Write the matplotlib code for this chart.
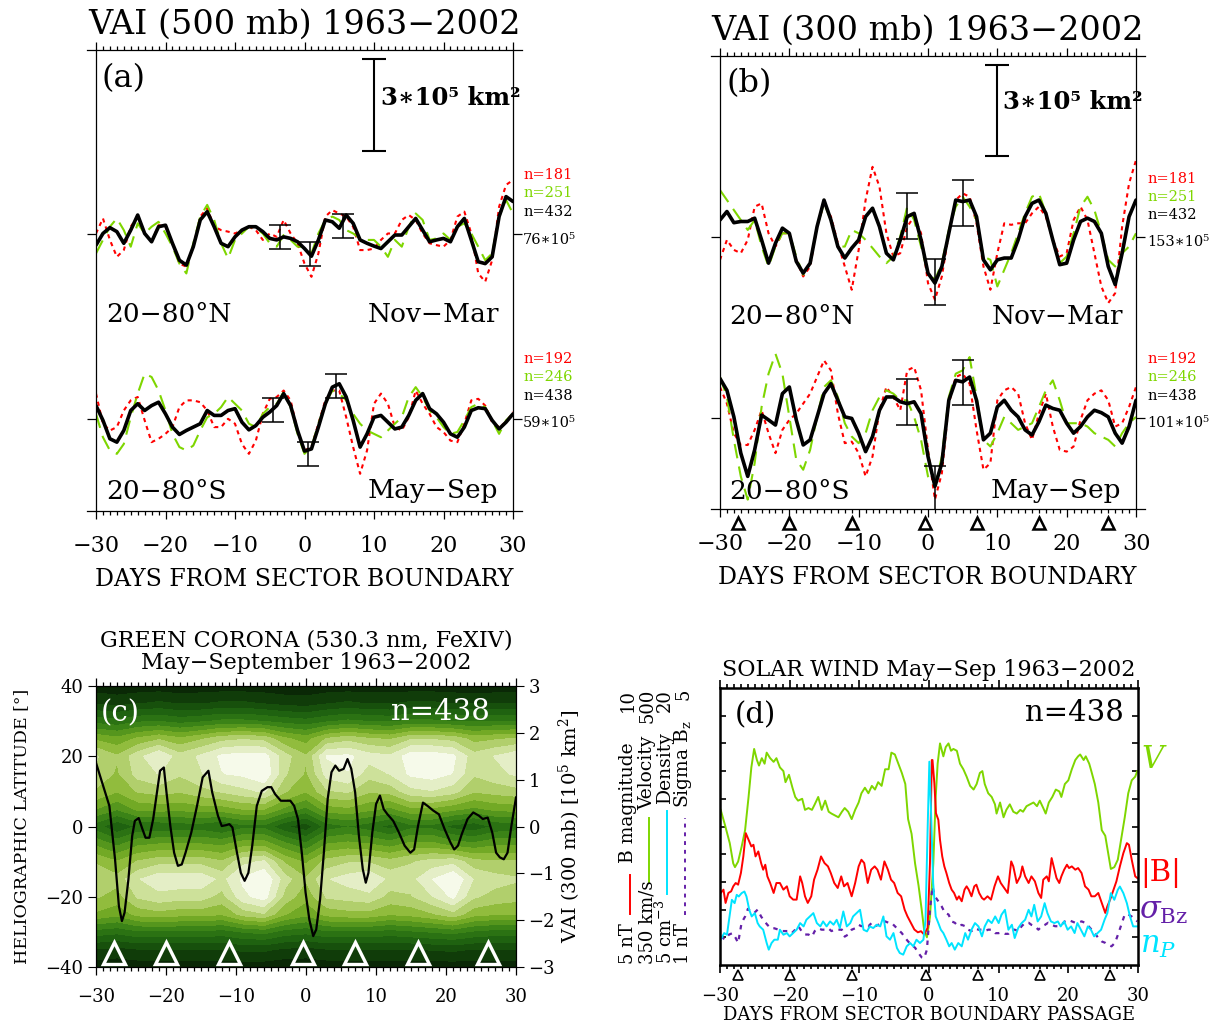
import numpy as np
from matplotlib import pyplot as plt
from matplotlib.lines import Line2D
from matplotlib.ticker import MultipleLocator

W, H = 1211, 1027
plt.rcParams['font.family'] = ['DejaVu Serif']
plt.rcParams['mathtext.fontset'] = 'dejavuserif'

RED = '#ff0000'
GREEN = '#7ed600'
CYAN = '#00e4ff'
PURPLE = '#6420a8'

# ------------------------------------------------------------------ data
days = np.arange(-30, 31)
tri_days = [-27.4, -20.0, -11.0, -0.5, 7.0, 16.0, 26.0]

# VAI anomalies (10^5 km^2), superposed epoch, one value per day
a_n_black = [-0.35, 0.03, 0.22, 0.09, -0.29, 0.14, 0.63, 0.03, -0.24, 0.25,
             0.30, -0.29, -0.84, -1.00, -0.40, 0.47, 0.74, 0.25, -0.29, -0.40,
             -0.08, 0.14, 0.25, 0.25, 0.09, -0.13, -0.18, -0.08, -0.13, -0.24,
             -0.46, -0.71, -0.18, 0.47, 0.41, 0.20, 0.63, 0.36, -0.18, -0.29,
             -0.38, -0.46, -0.24, -0.02, -0.02, 0.25, 0.52, 0.14, -0.24, -0.18,
             -0.13, -0.24, 0.25, 0.52, -0.18, -0.89, -0.95, -0.73, 0.58, 1.23, 1.07]
a_n_red = [0.03, 0.52, -0.18, -0.73, -0.51, 0.25, 0.58, 0.03, -0.24, 0.30,
           0.25, -0.29, -0.95, -1.05, -0.40, 0.58, 0.85, 0.25, 0.14, 0.09,
           0.03, 0.14, 0.25, 0.14, -0.18, 0.03, -0.08, 0.47, 0.03, -0.29,
           -0.95, -1.38, -0.62, 0.58, 0.79, 0.68, 0.58, 0.25, -0.51, -0.51,
           -0.46, -0.18, 0.03, 0.03, 0.47, 0.63, 0.47, 0.03, -0.29, -0.35,
           -0.40, -0.18, 0.58, 0.74, 0.03, -1.27, -1.54, -0.84, 0.90, 1.61, 1.77]
a_n_green = [-0.62, -0.18, 0.25, 0.52, 0.14, -0.40, 0.36, 0.03, 0.25, 0.41,
             0.03, -0.40, -0.95, -1.27, -0.29, 0.58, 0.96, 0.47, -0.29, -0.78,
             -0.18, 0.03, 0.25, 0.20, 0.03, -0.29, -0.40, -0.02, -0.18, -0.40,
             -0.40, -0.62, 0.03, 0.47, 0.58, 0.47, 0.14, 0.03, -0.13, -0.18,
             -0.18, -0.40, -0.73, -0.18, -0.40, 0.25, 0.68, 0.47, -0.18, -0.13,
             0.03, -0.18, 0.25, 0.36, 0.03, -0.40, -0.84, -0.62, 0.58, 1.12, 0.68]
a_s_black = [0.43, -0.05, -0.65, -0.76, -0.38, 0.27, 0.49, 0.27, 0.43, 0.54,
             0.16, -0.27, -0.51, -0.38, -0.27, -0.16, 0.27, 0.11, 0.11, 0.27,
             0.33, -0.11, -0.36, -0.22, 0.05, 0.22, 0.43, 0.82, 0.43, -0.38,
             -1.05, -0.98, -0.27, 0.49, 1.03, 1.14, 0.71, -0.05, -0.92, -0.49,
             0.05, 0.11, -0.11, -0.33, -0.27, 0.11, 0.60, 0.82, 0.33, 0.16,
             -0.11, -0.49, -0.60, -0.27, 0.27, 0.36, 0.33, -0.05, -0.33, -0.11, 0.16]
a_s_red = [0.82, -0.16, -0.38, -0.27, 0.27, 0.60, 0.71, -0.05, -0.76, -0.65,
           -0.49, -0.27, 0.38, 0.60, 0.60, 0.54, 0.27, -0.27, -0.27, 0.00,
           -0.16, -0.82, -1.14, -0.71, 0.16, 0.65, 0.71, 0.92, 0.60, -0.38,
           -1.03, -0.92, -0.16, 0.60, 0.92, 0.92, 0.05, -0.92, -1.79, -1.03,
           0.49, 0.82, 0.49, -0.27, -0.38, 0.05, 0.92, 0.49, 0.16, -0.27,
           -0.43, -0.71, -0.76, -0.16, 0.60, 0.65, 0.43, -0.11, -0.27, -0.11, 0.22]
a_s_green = [0.16, -0.60, -1.03, -1.14, -0.82, 0.05, 0.82, 1.47, 1.36, 0.92,
             0.27, -0.49, -0.92, -1.03, -0.87, -0.38, 0.05, 0.16, 0.38, 0.71,
             0.49, 0.27, -0.16, -0.27, 0.16, 0.38, 0.49, 0.87, 0.38, -0.49,
             -1.14, -0.92, -0.16, 0.49, 0.92, 0.82, 0.60, 0.16, -0.16, -0.38,
             -0.49, -0.60, -0.38, -0.16, 0.05, 0.71, 1.03, 0.71, 0.27, 0.05,
             -0.27, -0.49, -0.43, -0.05, 0.38, 0.49, 0.38, -0.05, -0.49, -0.05, 0.16]

b_n_black = [0.57, 0.85, 0.48, 0.52, 0.52, 0.63, -0.09, -0.86, -0.20, 0.30,
             0.13, -0.80, -1.19, -0.86, 0.35, 1.23, 0.57, -0.31, -0.69, -0.36,
             -0.09, 0.68, 0.96, 0.35, -0.53, -0.75, -0.09, 0.68, 0.79, -0.09,
             -1.19, -1.52, -0.97, 0.13, 1.23, 1.18, 1.23, 0.68, -0.75, -1.08,
             -0.75, -0.69, -0.69, -0.09, 0.68, 1.12, 1.23, 0.79, -0.09, -0.91,
             -0.86, -0.09, 0.52, 0.63, 0.52, 0.13, -0.97, -1.57, -0.53, 0.68, 1.23]
b_n_red = [-0.75, -0.09, -0.42, -0.53, -0.09, 1.01, 1.12, 0.13, -0.31, 0.13,
           0.13, -0.75, -1.30, -0.97, 0.35, 1.12, 0.68, -0.20, -0.97, -1.74,
           -0.42, 1.23, 2.33, 1.67, 0.13, -0.64, -0.53, 0.35, 0.68, 0.13,
           -1.52, -2.07, -1.30, 0.13, 1.23, 1.45, 1.34, 0.46, -0.97, -1.74,
           -0.53, 0.46, 0.41, 0.46, 0.46, 0.79, 1.01, 0.68, -0.09, -0.64,
           -0.53, 0.57, 1.01, 0.57, -0.53, -1.63, -2.18, -1.85, 0.35, 1.78, 2.55]
b_n_green = [1.56, 1.23, 0.90, 0.57, 0.24, 0.57, -0.31, -0.97, -0.31, 0.13,
             0.13, -0.64, -1.24, -0.86, 0.35, 1.12, 0.57, -0.31, -0.31, 0.24,
             0.13, -0.09, -0.36, -0.64, -0.86, -0.64, 0.02, 1.01, 0.57, -0.31,
             -1.19, -1.41, -0.86, 0.24, 1.01, 1.34, 1.01, 0.57, -0.64, -0.75,
             -1.63, -1.08, -0.53, 0.13, 0.79, 1.34, 1.45, 0.79, -0.09, -0.86,
             -0.64, 0.13, 1.01, 1.34, 0.90, 0.13, -0.75, -0.97, -0.53, -0.31, 0.13]
b_s_black = [1.32, 0.93, 0.05, -1.15, -1.92, -1.04, 0.11, -0.05, -0.22, 0.82,
             1.04, -0.05, -0.88, -0.71, 0.05, 0.82, 1.15, 0.60, 0.05, 0.00,
             -0.49, -1.10, -0.60, 0.27, 0.71, 0.71, 0.55, 0.49, 0.55, 0.16,
             -1.26, -2.25, -1.48, 0.60, 1.26, 1.21, 1.37, 0.60, -0.71, -0.49,
             0.38, 0.60, 0.27, 0.05, -0.38, -0.55, -0.11, 0.44, 0.33, 0.27,
             -0.16, -0.49, -0.27, 0.05, 0.27, 0.19, 0.05, -0.49, -0.82, -0.27, 0.60]
b_s_red = [1.04, 0.49, -0.49, -0.88, -0.88, -0.38, 0.27, -0.49, -1.15, -0.38,
           -0.05, 0.16, 0.49, 0.82, 1.37, 1.92, 1.59, 0.16, -0.82, -0.77,
           -1.15, -1.92, -1.26, 0.27, 1.04, 0.71, 0.27, 1.59, 1.70, 0.93,
           -1.04, -2.69, -1.81, 0.49, 1.37, 1.48, 1.15, -0.38, -1.70, -1.48,
           0.60, 0.93, 1.04, 0.82, -0.16, -0.71, 0.16, 0.82, -0.27, -1.04,
           -1.10, -0.93, -0.05, 0.60, 0.82, 0.93, 0.60, -0.27, -0.16, 0.38, 1.04]
b_s_green = [1.37, 0.71, -0.71, -1.92, -2.69, -1.48, 0.38, 1.48, 2.14, 1.48,
             0.05, -1.37, -1.70, -1.04, 0.05, 1.04, 1.26, 0.71, -0.16, -0.60,
             -0.82, -0.49, 0.27, 0.71, 0.93, 0.82, 0.60, 0.60, 0.05, -0.71,
             -1.92, -2.25, -1.26, 0.71, 1.48, 1.59, 2.03, 0.71, -0.71, -0.93,
             -0.49, 0.05, -0.16, -0.38, -0.27, -0.16, 0.38, 0.93, 1.26, 0.60,
             -0.16, -0.16, -0.16, -0.27, -0.49, -0.60, -0.71, -0.93, -0.49, -0.16, 0.05]

# error bars: day, value, half-length (10^5 km^2)
a_n_err = ([-3.5, 0.8, 5.6], [-0.10, -0.65, 0.28], 0.39)
a_s_err = ([-4.5, 0.55, 4.5], [0.28, -1.14, 1.08], 0.39)
b_n_err = ([-3.0, 1.0, 5.0], [0.71, -1.47, 1.14], 0.76)
b_s_err = ([-3.0, 1.0, 5.0], [0.54, -2.31, 1.18], 0.75)

# green corona intensity (normalised), latitude rows x day columns
corona_days = np.arange(-30, 31, 3)
corona_lats = [40, 35, 30, 25, 20, 15, 10, 5, 0, -5, -10, -15, -20, -25, -30, -35, -40]
corona_z = [
    [0.03, 0.02, 0.03, 0.03, 0.02, 0.03, 0.03, 0.03, 0.03, 0.02, 0.02, 0.03, 0.03, 0.03, 0.03, 0.03, 0.03, 0.03, 0.02, 0.03, 0.03],
    [0.15, 0.13, 0.15, 0.17, 0.15, 0.15, 0.17, 0.17, 0.15, 0.13, 0.12, 0.15, 0.17, 0.15, 0.15, 0.17, 0.17, 0.15, 0.15, 0.15, 0.15],
    [0.35, 0.33, 0.37, 0.38, 0.35, 0.37, 0.40, 0.40, 0.38, 0.35, 0.33, 0.37, 0.40, 0.38, 0.37, 0.40, 0.40, 0.38, 0.37, 0.38, 0.38],
    [0.60, 0.56, 0.63, 0.68, 0.63, 0.68, 0.74, 0.76, 0.74, 0.63, 0.58, 0.70, 0.74, 0.70, 0.68, 0.76, 0.76, 0.74, 0.66, 0.68, 0.70],
    [0.78, 0.70, 0.82, 0.92, 0.80, 0.86, 0.94, 0.96, 0.96, 0.80, 0.70, 0.93, 0.94, 0.88, 0.86, 0.97, 0.97, 0.94, 0.80, 0.85, 0.90],
    [0.75, 0.68, 0.80, 0.85, 0.78, 0.84, 0.92, 0.94, 0.99, 0.78, 0.68, 0.88, 0.92, 0.80, 0.85, 0.94, 0.96, 0.92, 0.78, 0.82, 0.86],
    [0.68, 0.62, 0.70, 0.72, 0.70, 0.74, 0.78, 0.82, 0.86, 0.70, 0.62, 0.76, 0.78, 0.70, 0.72, 0.82, 0.84, 0.80, 0.70, 0.72, 0.74],
    [0.54, 0.47, 0.56, 0.57, 0.56, 0.58, 0.58, 0.62, 0.62, 0.52, 0.44, 0.58, 0.60, 0.56, 0.52, 0.60, 0.60, 0.56, 0.52, 0.56, 0.57],
    [0.34, 0.24, 0.32, 0.32, 0.34, 0.34, 0.30, 0.36, 0.36, 0.24, 0.18, 0.34, 0.38, 0.34, 0.28, 0.36, 0.36, 0.28, 0.25, 0.32, 0.34],
    [0.52, 0.44, 0.52, 0.54, 0.54, 0.54, 0.52, 0.58, 0.58, 0.48, 0.40, 0.54, 0.56, 0.54, 0.50, 0.56, 0.56, 0.50, 0.48, 0.52, 0.52],
    [0.68, 0.62, 0.70, 0.74, 0.74, 0.74, 0.70, 0.82, 0.86, 0.68, 0.60, 0.72, 0.76, 0.76, 0.72, 0.76, 0.80, 0.82, 0.72, 0.70, 0.70],
    [0.76, 0.72, 0.84, 0.90, 0.90, 0.90, 0.82, 0.94, 1.00, 0.80, 0.70, 0.84, 0.88, 0.92, 0.82, 0.82, 0.92, 1.00, 0.84, 0.80, 0.78],
    [0.70, 0.66, 0.78, 0.82, 0.80, 0.80, 0.74, 0.90, 0.96, 0.74, 0.64, 0.78, 0.80, 0.82, 0.74, 0.76, 0.84, 0.94, 0.78, 0.74, 0.72],
    [0.60, 0.56, 0.64, 0.66, 0.64, 0.64, 0.62, 0.72, 0.76, 0.62, 0.56, 0.64, 0.66, 0.66, 0.62, 0.64, 0.68, 0.74, 0.64, 0.62, 0.62],
    [0.35, 0.33, 0.37, 0.37, 0.37, 0.37, 0.35, 0.39, 0.41, 0.35, 0.33, 0.37, 0.37, 0.37, 0.35, 0.37, 0.39, 0.41, 0.37, 0.35, 0.35],
    [0.15, 0.13, 0.15, 0.15, 0.15, 0.15, 0.15, 0.17, 0.17, 0.14, 0.13, 0.15, 0.15, 0.15, 0.15, 0.15, 0.16, 0.17, 0.15, 0.15, 0.15],
    [0.03, 0.02, 0.03, 0.03, 0.03, 0.03, 0.03, 0.03, 0.03, 0.02, 0.02, 0.03, 0.03, 0.03, 0.03, 0.03, 0.03, 0.03, 0.03, 0.03, 0.03],
]
corona_colors = ['#0a2806', '#103c09', '#17500c', '#1f6210', '#2b7213', '#3b8317', '#55961d',
                 '#72a925', '#91bc3d', '#b1cf6c', '#cde19a', '#e4eec6', '#f6faea']

# VAI 300 mb May-Sep, less smoothed, drawn over the corona map
c_days = [-30.00, -28.09, -27.28, -26.73, -26.30, -25.92, -25.37, -24.83, -24.45, -23.90,
          -23.36, -22.92, -22.38, -21.83, -21.29, -20.85, -20.31, -19.93, -19.38, -18.84,
          -18.30, -17.75, -17.21, -16.39, -15.57, -14.76, -13.94, -13.40, -12.58, -12.04,
          -11.38, -10.95, -10.51, -9.86, -9.31, -8.77, -8.23, -7.68, -7.03, -6.32,
          -5.50, -4.96, -4.41, -3.60, -2.24, -1.69, -1.15, -0.60, -0.06, 0.48,
          1.03, 1.46, 2.01, 2.55, 3.10, 3.64, 4.19, 4.73, 5.38, 5.93,
          6.47, 7.02, 7.56, 8.11, 8.54, 8.92, 9.47, 10.01, 10.56, 11.10,
          11.64, 12.46, 13.28, 14.09, 14.91, 15.45, 16.00, 16.71, 17.36, 18.18,
          18.99, 19.81, 20.63, 21.17, 21.71, 22.26, 23.08, 23.89, 24.71, 25.25,
          25.96, 26.61, 27.16, 27.70, 28.25, 28.79, 29.34, 30.00]
c_vai = [1.36, 0.44, -0.70, -1.70, -2.02, -1.84, -1.13, -0.20, 0.12, 0.18,
         -0.06, -0.24, -0.24, 0.16, 0.73, 1.19, 1.26, 0.73, 0.01, -0.56,
         -0.84, -0.81, -0.56, -0.13, 0.44, 1.05, 1.19, 0.73, 0.23, 0.01,
         0.03, 0.05, -0.02, -0.56, -0.99, -1.16, -0.99, -0.41, 0.44, 0.76,
         0.84, 0.84, 0.69, 0.55, 0.55, 0.44, 0.16, -0.56, -1.41, -1.99,
         -2.34, -2.20, -1.56, -0.56, 0.59, 1.16, 1.30, 1.19, 1.23, 1.44,
         1.23, 0.73, -0.20, -0.91, -1.20, -0.99, -0.13, 0.48, 0.66, 0.37,
         0.26, 0.12, -0.13, -0.41, -0.56, -0.49, 0.01, 0.51, 0.44, 0.34,
         0.26, -0.06, -0.34, -0.49, -0.41, -0.16, 0.16, 0.30, 0.23, 0.16,
         0.19, -0.13, -0.56, -0.66, -0.70, -0.56, 0.01, 0.62]

# solar wind: velocity (km/s)
v_days = [-29.9, -29.3, -28.6, -28.1, -27.85, -27.4, -26.9, -26.4, -25.9, -25.5,
          -25.1, -24.7, -24.4, -24.0, -23.6, -23.3, -22.8, -22.3, -21.9, -21.4,
          -20.9, -20.6, -20.1, -19.6, -19.2, -18.8, -18.2, -17.8, -17.3, -16.8,
          -16.4, -15.9, -15.4, -14.9, -14.4, -14.0, -13.5, -13.0, -12.5, -12.1,
          -11.6, -11.1, -10.6, -10.1, -9.7, -9.2, -8.7, -8.2, -7.75, -7.3,
          -6.8, -6.3, -5.8, -5.4, -4.9, -4.4, -3.9, -3.4, -3.0, -2.5,
          -2.0, -1.5, -1.05, -0.7, -0.3, 0.14, 0.62, 0.96, 1.24, 1.58,
          2.06, 2.4, 2.8, 3.16, 3.5, 4.0, 4.45, 4.93, 5.4, 5.9,
          6.4, 6.84, 7.3, 7.66, 8.0, 8.5, 9.0, 9.47, 9.7, 10.2,
          10.7, 11.1, 11.6, 12.1, 12.6, 13.1, 13.5, 14.0, 14.5, 15.0,
          15.5, 15.9, 16.4, 16.75, 17.2, 17.7, 18.2, 18.7, 19.0, 19.5,
          20.0, 20.5, 21.0, 21.4, 21.7, 22.2, 22.5, 23.0, 23.3, 23.8,
          24.3, 24.8, 25.3, 25.7, 26.1, 26.6, 27.1, 27.7, 28.1, 28.6,
          29.1, 29.6, 29.9]
v_kms = [434, 426, 416, 405, 403, 406, 414, 423, 441, 457,
         467, 461, 458, 462, 459, 465, 462, 460, 462, 457,
         455, 449, 453, 446, 441, 439, 440, 434, 435, 434,
         437, 441, 434, 439, 433, 432, 431, 430, 433, 435,
         433, 429, 434, 438, 443, 446, 443, 447, 445, 449,
         447, 456, 456, 465, 464, 459, 454, 448, 429, 421,
         405, 393, 380, 369, 365, 376, 405, 441, 459, 470,
         463, 468, 470, 466, 467, 466, 459, 456, 452, 447,
         445, 448, 454, 455, 448, 443, 441, 437, 432, 438,
         430, 434, 437, 433, 432, 434, 433, 436, 437, 438,
         436, 439, 435, 432, 438, 441, 445, 444, 441, 448,
         450, 456, 461, 463, 464, 461, 463, 459, 455, 448,
         438, 423, 420, 411, 402, 403, 407, 421, 430, 443,
         450, 452, 455]

# field magnitude |B| (nT)
b_days = [-29.9, -29.5, -29.2, -28.8, -28.4, -28.1, -27.75, -27.4, -27.0, -26.65,
          -26.3, -25.9, -25.5, -25.2, -24.9, -24.5, -24.1, -23.8, -23.5, -23.2,
          -22.8, -22.3, -21.9, -21.4, -20.9, -20.4, -20.0, -19.5, -19.0, -18.5,
          -18.2, -17.8, -17.4, -16.9, -16.5, -16.0, -15.5, -15.0, -14.5, -14.1,
          -13.6, -13.1, -12.6, -12.2, -11.7, -11.1, -10.6, -10.1, -9.7, -9.3,
          -8.8, -8.3, -7.8, -7.4, -6.9, -6.4, -5.9, -5.45, -5.0, -4.5,
          -4.0, -3.5, -3.1, -2.6, -2.1, -1.6, -1.15, -0.7, -0.2, 0.14,
          0.4, 0.5, 0.77, 1.0, 1.34, 1.58, 1.9, 2.2, 2.5, 2.9,
          3.25, 3.6, 4.0, 4.3, 4.7, 5.1, 5.4, 5.7, 6.1, 6.5,
          6.8, 7.2, 7.6, 7.9, 8.4, 8.9, 9.4, 9.9, 10.3, 10.8,
          11.3, 11.8, 12.1, 12.6, 13.1, 13.4, 13.8, 14.3, 14.7, 15.2,
          15.7, 16.1, 16.4, 16.9, 17.2, 17.6, 18.0, 18.3, 18.7, 19.0,
          19.4, 19.8, 20.1, 20.5, 21.0, 21.4, 21.9, 22.4, 22.9, 23.3,
          23.8, 24.3, 24.8, 25.3, 25.6, 26.0, 26.5, 26.9, 27.4, 27.9,
          28.4, 28.7, 29.1, 29.6, 29.9]
b_nt = [6.30, 6.36, 6.12, 6.30, 6.33, 6.42, 6.48, 6.45, 6.66, 6.96,
        7.38, 7.26, 7.14, 7.17, 6.96, 7.05, 6.84, 6.72, 6.81, 6.60,
        6.48, 6.30, 6.48, 6.48, 6.36, 6.42, 6.24, 6.18, 6.18, 6.60,
        6.48, 6.24, 6.12, 6.24, 6.54, 6.72, 6.96, 6.84, 6.78, 6.66,
        6.48, 6.39, 6.60, 6.42, 6.48, 6.24, 6.48, 6.78, 6.90, 6.84,
        6.48, 6.72, 6.78, 6.72, 6.54, 6.87, 6.72, 6.54, 6.48, 6.30,
        6.24, 6.00, 5.88, 5.76, 5.64, 5.59, 5.61, 5.55, 5.67, 6.84,
        8.70, 8.70, 8.28, 7.74, 7.62, 7.26, 6.96, 6.78, 6.66, 6.48,
        6.36, 6.30, 6.18, 6.24, 6.15, 6.36, 6.42, 6.36, 6.24, 6.42,
        6.45, 6.30, 6.21, 6.18, 6.24, 6.18, 6.42, 6.60, 6.48, 6.39,
        6.30, 6.87, 6.78, 6.48, 6.60, 6.78, 6.60, 6.48, 6.60, 6.51,
        6.30, 6.21, 6.54, 6.60, 6.51, 6.93, 6.72, 6.57, 6.48, 6.60,
        6.72, 6.81, 6.75, 6.78, 6.72, 6.75, 6.66, 6.42, 6.36, 6.24,
        6.24, 6.30, 6.12, 5.94, 6.06, 6.18, 6.36, 6.51, 6.78, 7.02,
        7.20, 7.17, 6.90, 6.60, 6.57]

# proton density (cm^-3)
n_days = [-29.9, -29.4, -29.0, -28.7, -28.3, -27.9, -27.6, -27.3, -26.9, -26.5,
          -26.2, -25.8, -25.45, -25.0, -24.6, -24.3, -23.8, -23.3, -23.0, -22.6,
          -22.2, -21.7, -21.4, -20.9, -20.4, -20.0, -19.5, -19.0, -18.5, -18.0,
          -17.6, -17.1, -16.6, -16.1, -15.6, -15.2, -14.7, -14.2, -13.7, -13.25,
          -12.8, -12.3, -11.8, -11.3, -10.9, -10.4, -9.9, -9.4, -8.9, -8.5,
          -8.0, -7.5, -7.0, -6.55, -6.1, -5.6, -5.1, -4.6, -4.2, -3.7,
          -3.2, -2.7, -2.25, -1.8, -1.3, -0.8, -0.5, -0.2, 0.05, 0.3,
          0.6, 0.96, 1.34, 1.7, 2.06, 2.5, 2.9, 3.25, 3.7, 4.2,
          4.7, 5.2, 5.6, 6.1, 6.6, 7.1, 7.6, 8.0, 8.5, 9.0,
          9.5, 10.0, 10.4, 10.9, 11.4, 11.9, 12.3, 12.8, 13.3, 13.8,
          14.3, 14.7, 15.1, 15.6, 16.1, 16.6, 17.0, 17.5, 18.0, 18.5,
          18.9, 19.4, 19.9, 20.4, 20.9, 21.3, 21.8, 22.3, 22.8, 23.25,
          23.7, 24.2, 24.7, 25.2, 25.6, 26.1, 26.6, 27.1, 27.4, 27.9,
          28.4, 28.85, 29.3, 29.9]
n_cm3 = [6.37, 6.73, 6.64, 7.45, 8.53, 8.35, 8.80, 8.71, 8.89, 8.98,
         8.71, 7.99, 7.63, 7.81, 7.27, 7.09, 6.91, 6.19, 5.83, 6.19,
         6.37, 6.37, 6.91, 6.64, 6.73, 6.55, 6.73, 6.91, 7.27, 7.09,
         7.45, 7.63, 7.81, 7.27, 7.09, 7.36, 7.09, 7.36, 7.18, 7.45,
         7.00, 7.90, 7.09, 7.27, 7.63, 7.81, 7.99, 6.91, 6.82, 7.09,
         7.00, 7.18, 7.09, 7.63, 6.55, 6.37, 6.73, 5.92, 5.65, 5.56,
         6.01, 6.19, 6.01, 6.37, 6.19, 6.37, 7.45, 12.32, 16.01, 13.22,
         9.43, 7.63, 7.27, 6.91, 6.73, 6.37, 6.01, 6.19, 5.83, 6.19,
         6.01, 6.73, 6.37, 6.91, 7.27, 7.09, 6.55, 7.09, 7.45, 7.27,
         7.63, 7.27, 7.72, 7.99, 6.91, 7.18, 6.46, 7.00, 7.27, 7.45,
         7.99, 7.63, 8.26, 7.36, 7.63, 8.35, 7.81, 7.36, 7.27, 7.36,
         7.09, 7.36, 6.91, 7.09, 6.73, 7.27, 6.91, 6.55, 7.09, 6.91,
         6.55, 6.73, 6.91, 7.45, 7.81, 8.89, 8.53, 9.07, 9.25, 8.89,
         8.35, 7.63, 7.09, 7.09]

# sigma Bz (nT)
s_days = [-29.9, -29.3, -28.7, -28.2, -27.75, -27.4, -26.9, -26.4, -26.0, -25.5,
          -25.1, -24.6, -24.1, -23.6, -23.2, -22.7, -22.2, -21.6, -21.1, -20.7,
          -20.2, -19.7, -19.2, -18.75, -18.3, -17.8, -17.3, -16.8, -16.4, -15.9,
          -15.4, -14.9, -14.45, -14.0, -13.5, -13.0, -12.5, -12.1, -11.6, -11.1,
          -10.6, -10.1, -9.7, -9.2, -8.7, -8.2, -7.75, -7.3, -6.8, -6.3,
          -5.8, -5.4, -4.9, -4.4, -3.9, -3.4, -3.0, -2.5, -2.0, -1.5,
          -1.05, -0.7, -0.3, 0.14, 0.5, 0.86, 1.34, 1.8, 2.3, 2.8,
          3.25, 3.7, 4.2, 4.7, 5.2, 5.6, 6.1, 6.6, 7.1, 7.6,
          8.0, 8.5, 9.0, 9.5, 10.0, 10.4, 10.9, 11.4, 11.9, 12.3,
          12.8, 13.3, 13.8, 14.3, 14.7, 15.2, 15.7, 16.2, 16.65, 17.1,
          17.6, 18.1, 18.6, 19.0, 19.5, 20.0, 20.5, 21.0, 21.4, 21.9,
          22.4, 22.9, 23.35, 23.8, 24.3, 24.8, 25.3, 25.7, 26.2, 26.7,
          27.2, 27.7, 28.1, 28.6, 29.1, 29.6, 29.9]
s_nt = [1.41, 1.37, 1.44, 1.46, 1.39, 1.32, 1.61, 1.70, 1.81, 1.77,
        1.75, 1.80, 1.70, 1.63, 1.58, 1.53, 1.53, 1.51, 1.49, 1.49,
        1.49, 1.46, 1.51, 1.56, 1.49, 1.44, 1.44, 1.41, 1.49, 1.53,
        1.51, 1.51, 1.53, 1.49, 1.51, 1.51, 1.51, 1.41, 1.44, 1.51,
        1.53, 1.58, 1.56, 1.58, 1.56, 1.61, 1.56, 1.58, 1.61, 1.63,
        1.61, 1.61, 1.56, 1.51, 1.46, 1.39, 1.34, 1.29, 1.25, 1.17,
        1.11, 1.10, 1.22, 1.80, 2.13, 1.99, 1.92, 1.85, 1.75, 1.73,
        1.63, 1.61, 1.56, 1.58, 1.56, 1.51, 1.49, 1.53, 1.51, 1.51,
        1.49, 1.51, 1.51, 1.46, 1.46, 1.47, 1.45, 1.45, 1.51, 1.51,
        1.49, 1.56, 1.61, 1.61, 1.58, 1.56, 1.51, 1.56, 1.58, 1.61,
        1.58, 1.56, 1.56, 1.58, 1.63, 1.65, 1.63, 1.61, 1.61, 1.63,
        1.61, 1.56, 1.51, 1.46, 1.39, 1.34, 1.32, 1.29, 1.27, 1.32,
        1.46, 1.61, 1.73, 1.73, 1.70, 1.65, 1.63]

# ------------------------------------------------------------------ helpers
fig = plt.figure(figsize=(W / 100, H / 100), dpi=100)


def add_box(x0, y0, x1, y1):
    # axes placed by pixel corners (origin top-left)
    return fig.add_axes([x0 / W, 1 - y1 / H, (x1 - x0) / W, (y1 - y0) / H])


def ftext(x, y, s, **kw):
    kw.setdefault('va', 'center')
    fig.text(x / W, 1 - y / H, s, **kw)


def fline(x0, y0, x1, y1, **kw):
    fig.add_artist(Line2D([x0 / W, x1 / W], [1 - y0 / H, 1 - y1 / H],
                          transform=fig.transFigure, **kw))


def day_axis(ax, lw=0.9, labelsize=16, pad=10):
    ax.set_xlim(-30, 30)
    ax.xaxis.set_major_locator(MultipleLocator(10))
    ax.xaxis.set_minor_locator(MultipleLocator(1))
    ax.tick_params(axis='x', which='both', direction='out', top=True, bottom=True,
                   width=lw, labelsize=labelsize, pad=pad)
    ax.tick_params(axis='x', which='major', length=6)
    ax.tick_params(axis='x', which='minor', length=3)


def vai_panel(box, groups):
    ax = add_box(*box)
    day_axis(ax, pad=11)
    ax.set_ylim(0, 15)
    for base, black, red, green, err in groups:
        ax.plot(days, base + np.asarray(red), color=RED, lw=1.5, ls=(0, (2, 2)))
        ax.plot(days, base + np.asarray(green), color=GREEN, lw=1.5, ls=(0, (7, 4)))
        ax.plot(days, base + np.asarray(black), color='k', lw=2.6,
                solid_joinstyle='round', solid_capstyle='round')
        ed, ec, eh = err
        ax.errorbar(ed, base + np.asarray(ec), yerr=eh, fmt='none', ecolor='k',
                    elinewidth=1.1, capsize=8, capthick=1.1)
    # 3*10^5 km^2 scale bar
    ax.errorbar([10], [13.2], yerr=[1.5], fmt='none', ecolor='k', elinewidth=1.5,
                capsize=8.5, capthick=1.5)
    ax.set_yticks([3, 9])
    ax.tick_params(axis='y', direction='out', left=True, right=True, length=6.5,
                   width=0.9, labelleft=False)
    ax.spines['top'].set_visible(False)
    ax.spines['bottom'].set_visible(False)
    for s in ('left', 'right'):
        ax.spines[s].set_linewidth(0.9)
    for yy in (0, 1):
        ax.plot([-31.3, 31.3], [yy, yy], transform=ax.get_xaxis_transform(),
                color='k', lw=0.9, clip_on=False)
    return ax


def side_labels(x, ys, texts, ref_y, ref_text):
    for y, t, c in zip(ys, texts, (RED, GREEN, 'k')):
        ftext(x, y, t, color=c, fontsize=10.5, ha='left')
    ftext(x, ref_y, ref_text, fontsize=10.5, ha='left')


# ------------------------------------------------------------------ (a)
axa = vai_panel((96, 50, 513, 511),
                [(9, a_n_black, a_n_red, a_n_green, a_n_err),
                 (3, a_s_black, a_s_red, a_s_green, a_s_err)])
ftext(304, 25, 'VAI (500 mb) 1963−2002', fontsize=24, ha='center')
ftext(124, 79, '(a)', fontsize=23, ha='center')
ftext(381, 98, '3∗10⁵ km²', fontsize=17.5, ha='left', fontweight='bold')
side_labels(523, (175, 193, 212), ('n=181', 'n=251', 'n=432'), 240, '76∗10⁵')
side_labels(523, (359, 377, 396), ('n=192', 'n=246', 'n=438'), 423, '59∗10⁵')
ftext(106, 314, '20−80°N', fontsize=19, ha='left')
ftext(499, 314, 'Nov−Mar', fontsize=19, ha='right')
ftext(106, 492, '20−80°S', fontsize=19, ha='left')
ftext(498, 491, 'May−Sep', fontsize=19, ha='right')
ftext(304, 580, 'DAYS FROM SECTOR BOUNDARY', fontsize=17, ha='center')

# ------------------------------------------------------------------ (b)
axb = vai_panel((720, 56, 1136, 509),
                [(9, b_n_black, b_n_red, b_n_green, b_n_err),
                 (3, b_s_black, b_s_red, b_s_green, b_s_err)])
axb.plot(tri_days, [-0.46] * len(tri_days), ls='none', marker='^', ms=8,
         mfc='none', mec='k', mew=1.8, clip_on=False)
ftext(927, 31, 'VAI (300 mb) 1963−2002', fontsize=24, ha='center')
ftext(749, 84, '(b)', fontsize=23, ha='center')
ftext(1003, 102, '3∗10⁵ km²', fontsize=17.5, ha='left', fontweight='bold')
side_labels(1147, (179, 197, 215), ('n=181', 'n=251', 'n=432'), 242, '153∗10⁵')
side_labels(1147, (359, 377, 396), ('n=192', 'n=246', 'n=438'), 423, '101∗10⁵')
ftext(729, 316, '20−80°N', fontsize=19, ha='left')
ftext(1123, 316, 'Nov−Mar', fontsize=19, ha='right')
ftext(729, 492, '20−80°S', fontsize=19, ha='left')
ftext(1121, 491, 'May−Sep', fontsize=19, ha='right')
ftext(927, 577, 'DAYS FROM SECTOR BOUNDARY', fontsize=17, ha='center')

# ------------------------------------------------------------------ (c)
axc = add_box(96, 686, 516, 967)
day_axis(axc, labelsize=13, pad=9)
axc.contourf(corona_days, corona_lats[::-1], np.asarray(corona_z)[::-1],
             levels=np.linspace(0, 1.0001, 14), colors=corona_colors)
axc.set_ylim(-40, 40)
axc.set_yticks([-40, -20, 0, 20, 40])
axc.tick_params(axis='y', direction='out', length=6, labelsize=13, pad=3)
axc.plot(tri_days, [-36] * len(tri_days), ls='none', marker='^', ms=16,
         mfc='none', mec='white', mew=2.4)
axv = axc.twinx()
axv.set_ylim(-3, 3)
axv.set_yticks(range(-3, 4))
axv.tick_params(axis='y', direction='out', length=6, labelsize=13, pad=3)
axv.plot(c_days, c_vai, color='k', lw=1.6)
ftext(306, 641, 'GREEN CORONA (530.3 nm, FeXIV)', fontsize=16, ha='center')
ftext(306, 663, 'May−September 1963−2002', fontsize=16, ha='center')
ftext(120, 713, '(c)', fontsize=21, ha='center', color='white')
ftext(490, 712, 'n=438', fontsize=21, ha='right', color='white')
ftext(22, 826, 'HELIOGRAPHIC LATITUDE [°]', fontsize=12.5, ha='center', rotation=90)
ftext(570, 826, 'VAI (300 mb) [10$^5$ km$^2$]', fontsize=14, ha='center', rotation=90)

# ------------------------------------------------------------------ (d)
axd = add_box(720, 688, 1138, 965)
day_axis(axd, lw=1.2, labelsize=13, pad=10)
axd.set_ylim(0, 10)
axd.set_yticks(range(1, 10))
axd.tick_params(axis='y', direction='in', left=True, right=True, length=4,
                width=1.2, labelleft=False)
for s in axd.spines.values():
    s.set_linewidth(1.8)


def to_axis(vals, lo, hi):
    # each quantity has its own range across the 0-10 axis
    return (np.asarray(vals) - lo) / (hi - lo) * 10


axd.plot(v_days, to_axis(v_kms, 350, 500), color=GREEN, lw=1.4)
axd.plot(b_days, to_axis(b_nt, 5, 10), color=RED, lw=1.4)
axd.plot(s_days, to_axis(s_nt, 1, 5), color=PURPLE, lw=1.6, ls=(0, (2, 2.5)))
axd.plot(n_days, to_axis(n_cm3, 5, 20), color=CYAN, lw=1.4)
axd.plot(tri_days, [-0.36] * len(tri_days), ls='none', marker='^', ms=6.5,
         mfc='none', mec='k', mew=1.2, clip_on=False)

ftext(929, 670, 'SOLAR WIND May−Sep 1963−2002', fontsize=16, ha='center')
ftext(755, 715, '(d)', fontsize=21, ha='center')
ftext(1124, 713, 'n=438', fontsize=21, ha='right')
ftext(929, 1015, 'DAYS FROM SECTOR BOUNDARY PASSAGE', fontsize=13, ha='center')

ftext(1141, 760, 'V', fontsize=22, ha='left', color=GREEN, style='italic')
ftext(1140, 873, '|B|', fontsize=21, ha='left', color=RED)
ftext(1139, 910, r'$\sigma_{\rm Bz}$', fontsize=22, ha='left', color=PURPLE)
ftext(1140, 945, r'$n_P$', fontsize=22, ha='left', color=CYAN)

# stacked scale key on the left of (d): low value, line sample, name, high value
key = [
    (628, '5 nT', 917, 872, RED, '-', 'B magnitude', 863, '10'),
    (647, '350 km/s', 885, 815, GREEN, '-', 'Velocity', 810, '500'),
    (665, '5 cm$^{-3}$', 897, 808, CYAN, '-', 'Density', 803, '20'),
    (683, '1 nT', 918, 815, PURPLE, (0, (2, 2.5)), 'Sigma B$_{\\rm z}$', 808, '5'),
]
for x, low, s0, s1, col, ls, name, n0, high in key:
    ftext(x, 964, low, fontsize=13, ha='center', va='bottom', rotation=90)
    fline(x + 2, s0 - 3, x + 2, s1 + 3, color=col, lw=1.4, ls=ls)
    ftext(x, n0, name, fontsize=13.5, ha='center', va='bottom', rotation=90)
    ftext(x, 689, high, fontsize=13, ha='center', va='top', rotation=90)

fig.savefig('out.png', dpi=100)
